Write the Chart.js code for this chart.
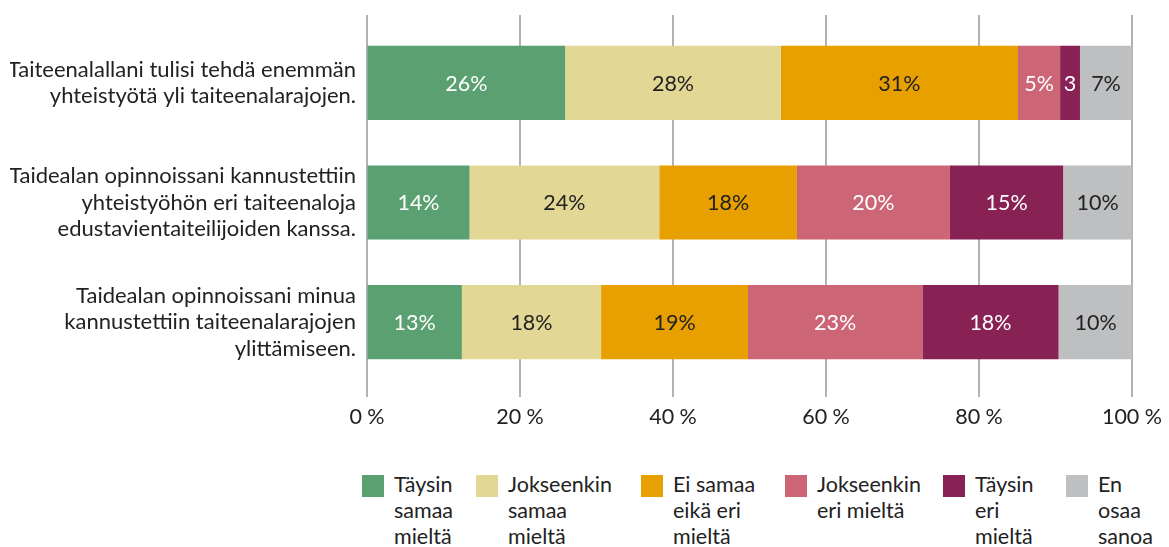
<!DOCTYPE html>
<html>
<head>
<meta charset="utf-8">
<script src="https://cdn.jsdelivr.net/npm/chart.js@4/dist/chart.umd.min.js"></script>
<style>
  body { margin: 0; background: #fff; font-family: Lato, sans-serif; }
  #wrap { position: relative; width: 1169px; height: 547px; }
  #box { position: absolute; left: 0; top: 0; width: 1169px; height: 440px; }
  .lg { position: absolute; top: 471px; display: flex; font-size: 21.5px; line-height: 26px; color: #222; }
  .lg .sw { width: 22px; height: 22px; margin-top: 4px; margin-right: 10px; flex: none; }
</style>
</head>
<body>
<div id="wrap">
  <div id="box"><canvas id="c"></canvas></div>
  <div id="legend"></div>
</div>
<script>
const categories = [
  ['Taiteenalallani tulisi tehdä enemmän', 'yhteistyötä yli taiteenalarajojen.'],
  ['Taidealan opinnoissani kannustettiin', 'yhteistyöhön eri taiteenaloja', 'edustavientaiteilijoiden kanssa.'],
  ['Taidealan opinnoissani minua', 'kannustettiin taiteenalarajojen', 'ylittämiseen.']
];
const seriesNames = [
  ['Täysin', 'samaa', 'mieltä'],
  ['Jokseenkin', 'samaa', 'mieltä'],
  ['Ei samaa', 'eikä eri', 'mieltä'],
  ['Jokseenkin', 'eri mieltä'],
  ['Täysin', 'eri', 'mieltä'],
  ['En', 'osaa', 'sanoa']
];
const colors = ['#5aa070', '#e3d795', '#e89f00', '#cc6677', '#882255', '#bebfc1'];
const textColors = ['#fff', '#222', '#222', '#fff', '#fff', '#222'];

// bar lengths, %
const taysinSamaa = [25.9, 13.4, 12.4];
const jokseenkinSamaa = [28.2, 24.8, 18.2];
const eiSamaaEiEri = [31.0, 18.0, 19.2];
const jokseenkinEri = [5.5, 20.0, 22.8];
const taysinEri = [2.6, 14.8, 17.8];
const enOsaa = [6.8, 9.0, 9.7];

// printed labels
const taysinSamaaTxt = ['26%', '14%', '13%'];
const jokseenkinSamaaTxt = ['28%', '24%', '18%'];
const eiSamaaEiEriTxt = ['31%', '18%', '19%'];
const jokseenkinEriTxt = ['5%', '20%', '23%'];
const taysinEriTxt = ['3', '15%', '18%'];
const enOsaaTxt = ['7%', '10%', '10%'];

const values = [taysinSamaa, jokseenkinSamaa, eiSamaaEiEri, jokseenkinEri, taysinEri, enOsaa];
const texts = [taysinSamaaTxt, jokseenkinSamaaTxt, eiSamaaEiEriTxt, jokseenkinEriTxt, taysinEriTxt, enOsaaTxt];

const FONT = 21.5;

const gridPlugin = {
  id: 'grid',
  beforeDatasetsDraw(chart) {
    const { ctx, chartArea, scales: { x } } = chart;
    ctx.save();
    ctx.strokeStyle = '#999';
    ctx.lineWidth = 1.5;
    x.ticks.forEach(t => {
      const px = x.getPixelForValue(t.value);
      ctx.beginPath();
      ctx.moveTo(px, chartArea.top - 8);
      ctx.lineTo(px, chartArea.bottom + 15);
      ctx.stroke();
    });
    ctx.restore();
  }
};

const labelPlugin = {
  id: 'barLabels',
  afterDatasetsDraw(chart) {
    const ctx = chart.ctx;
    ctx.save();
    ctx.font = FONT + 'px Lato';
    ctx.textAlign = 'center';
    ctx.textBaseline = 'middle';
    chart.data.datasets.forEach((ds, i) => {
      chart.getDatasetMeta(i).data.forEach((el, j) => {
        ctx.fillStyle = textColors[i];
        ctx.fillText(texts[i][j], (el.x + el.base) / 2, el.y + 1);
      });
    });
    ctx.restore();
  }
};

new Chart(document.getElementById('c'), {
  type: 'bar',
  data: {
    labels: categories,
    datasets: values.map((v, i) => ({
      label: seriesNames[i].join(' '),
      data: v,
      backgroundColor: colors[i],
      borderWidth: 0,
      barPercentage: 0.62,
      categoryPercentage: 1
    }))
  },
  options: {
    indexAxis: 'y',
    responsive: true,
    maintainAspectRatio: false,
    animation: false,
    layout: { padding: { left: 10, right: 37, top: 23, bottom: 0 } },
    plugins: {
      legend: { display: false },
      tooltip: { enabled: false }
    },
    scales: {
      x: {
        stacked: true,
        min: 0,
        max: 100,
        afterFit: s => { s.height = 58; s.paddingLeft = 0; s.paddingRight = 0; },
        grid: { color: 'rgba(0,0,0,0)', drawTicks: true, tickLength: 15 },
        border: { display: false },
        ticks: {
          stepSize: 20,
          padding: 7,
          color: '#222',
          font: { family: 'Lato', size: FONT },
          callback: v => v + ' %'
        }
      },
      y: {
        stacked: true,
        afterFit: s => { s.width = 357; s.paddingTop = 0; s.paddingBottom = 0; },
        grid: { display: false, drawTicks: false },
        border: { display: false },
        ticks: {
          padding: 11,
          color: '#222',
          font: { family: 'Lato', size: 22, lineHeight: 26.5 / 22 }
        }
      }
    }
  },
  plugins: [gridPlugin, labelPlugin]
});

// legend below the chart
const legendLeft = [362, 476, 641, 785, 943, 1066];
const legend = document.getElementById('legend');
seriesNames.forEach((lines, i) => {
  const item = document.createElement('div');
  item.className = 'lg';
  item.style.left = legendLeft[i] + 'px';
  item.innerHTML = '<span class="sw" style="background:' + colors[i] + '"></span><span>' + lines.join('<br>') + '</span>';
  legend.appendChild(item);
});
</script>
</body>
</html>
